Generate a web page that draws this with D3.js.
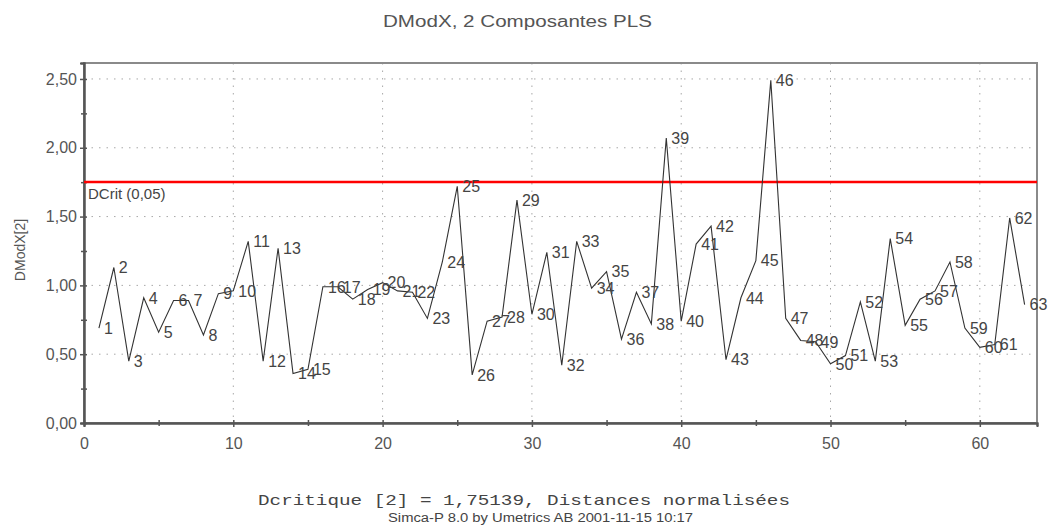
<!DOCTYPE html>
<html>
<head>
<meta charset="utf-8">
<script src="https://cdn.jsdelivr.net/npm/d3@7"></script>
<style>
  html, body { margin: 0; padding: 0; background: #fff; }
  svg { display: block; }
</style>
</head>
<body>
<svg id="chart" width="1049" height="528" font-family="'Liberation Sans', Arial, sans-serif"></svg>
<script>
// ---- data ----
const observations = [1,2,3,4,5,6,7,8,9,10,11,12,13,14,15,16,17,18,19,20,21,22,23,24,25,26,27,28,29,30,31,32,33,34,35,36,37,38,39,40,41,42,43,44,45,46,47,48,49,50,51,52,53,54,55,56,57,58,59,60,61,62,63];
const dmodxValues = [0.69,1.13,0.45,0.91,0.66,0.89,0.89,0.64,0.94,0.96,
                     1.32,0.45,1.27,0.36,0.39,0.99,0.99,0.90,0.97,1.02,
                     0.96,0.95,0.76,1.17,1.72,0.35,0.74,0.77,1.62,0.79,
                     1.24,0.42,1.32,0.98,1.10,0.61,0.95,0.72,2.07,0.74,
                     1.30,1.43,0.46,0.91,1.18,2.49,0.76,0.60,0.59,0.43,
                     0.49,0.88,0.45,1.34,0.71,0.90,0.96,1.17,0.69,0.55,
                     0.57,1.49,0.86];
const dCrit = 1.75139;
const yTickValues = [0, 0.5, 1.0, 1.5, 2.0, 2.5];
const yMinorTicks = [0.25, 0.75, 1.25, 1.75, 2.25];
const xTickValues = [0, 10, 20, 30, 40, 50, 60];
const xMinorTicks = [5, 15, 25, 35, 45, 55];
const titleText = "DModX, 2 Composantes PLS";
const yLabelText = "DModX[2]";
const critLabelText = "DCrit (0,05)";
const footer1Text = "Dcritique [2] = 1,75139, Distances normalisées";
const footer2Text = "Simca-P 8.0 by Umetrics AB 2001-11-15 10:17";

// ---- layout ----
const L = 84, R = 1037, T = 63, B = 423;
const svg = d3.select("#chart");
svg.append("rect").attr("width", 1049).attr("height", 528).attr("fill", "#fff");

const x = d3.scaleLinear().domain([0, 63.83]).range([L, R]);
const y = d3.scaleLinear().domain([0, 2.616]).range([B, T]);
const comma = d => d3.format(".2f")(d).replace(".", ",");

// grid
const grid = svg.append("g");
grid.selectAll(".gy").data(yTickValues.filter(d => d > 0)).join("line")
  .attr("x1", L).attr("x2", R).attr("y1", d => y(d)).attr("y2", d => y(d))
  .attr("stroke", "#a8a8a8").attr("stroke-width", 1).attr("stroke-dasharray", "1.5,6");
grid.selectAll(".gx").data(xTickValues.filter(d => d > 0)).join("line")
  .attr("x1", d => x(d)).attr("x2", d => x(d)).attr("y1", T).attr("y2", B)
  .attr("stroke", "#a8a8a8").attr("stroke-width", 1).attr("stroke-dasharray", "1.5,6");

// frame
svg.append("rect").attr("x", L).attr("y", T).attr("width", R - L).attr("height", B - T)
  .attr("fill", "none").attr("stroke", "#8a8a8a").attr("stroke-width", 2);

// axes
const yAxis = svg.append("g").attr("transform", `translate(${L},0)`)
  .call(d3.axisLeft(y).tickValues(yTickValues).tickFormat(comma).tickSize(4).tickPadding(3));
const yMinor = svg.append("g").attr("transform", `translate(${L},0)`)
  .call(d3.axisLeft(y).tickValues(yMinorTicks).tickFormat("").tickSize(3));
const xAxis = svg.append("g").attr("transform", `translate(0,${B})`)
  .call(d3.axisBottom(x).tickValues(xTickValues).tickFormat(d3.format("d")).tickSize(4).tickPadding(11));
const xMinor = svg.append("g").attr("transform", `translate(0,${B})`)
  .call(d3.axisBottom(x).tickValues(xMinorTicks).tickFormat("").tickSize(3));
[yAxis, yMinor, xAxis, xMinor].forEach(g => {
  g.select(".domain").attr("stroke", "#555").attr("stroke-width", 2);
  g.selectAll(".tick line").attr("stroke", "#555").attr("stroke-width", 1.5);
  g.selectAll(".tick text").attr("fill", "#555").attr("font-size", 16)
    .attr("font-family", "'Liberation Sans', Arial, sans-serif");
});
xAxis.selectAll(".tick line").attr("y1", -3);
xMinor.selectAll(".tick line").attr("y1", -3);
yMinor.selectAll(".tick line").attr("x1", 3);
yAxis.selectAll(".tick line").attr("x1", 3);

// critical line
svg.append("line").attr("x1", L).attr("x2", R).attr("y1", y(dCrit)).attr("y2", y(dCrit))
  .attr("stroke", "#ff0000").attr("stroke-width", 2.5);
svg.append("text").attr("x", L + 4).attr("y", y(dCrit) + 17)
  .attr("font-size", 15).attr("fill", "#444").text(critLabelText);

// data line
const pts = observations.map((o, i) => ({ o, v: dmodxValues[i] }));
svg.append("path").datum(pts)
  .attr("d", d3.line().x(d => x(d.o)).y(d => y(d.v)))
  .attr("fill", "none").attr("stroke", "#333").attr("stroke-width", 1.1);

// point labels
svg.append("g").selectAll("text").data(pts).join("text")
  .attr("x", d => x(d.o) + 5).attr("y", d => y(d.v)).attr("dy", "0.36em")
  .attr("font-size", 16).attr("fill", "#444").text(d => d.o);

// title
svg.append("text").attr("x", 383).attr("y", 27).attr("font-size", 16).attr("fill", "#555")
  .attr("textLength", 269).attr("lengthAdjust", "spacingAndGlyphs").text(titleText);

// y label
svg.append("text").attr("transform", "translate(25,250) rotate(-90)")
  .attr("text-anchor", "middle").attr("font-size", 14).attr("fill", "#555").text(yLabelText);

// footer
svg.append("text").attr("x", 258).attr("y", 505)
  .attr("font-family", "'Liberation Mono', 'Courier New', monospace")
  .attr("font-size", 15).attr("fill", "#444")
  .attr("textLength", 532).attr("lengthAdjust", "spacingAndGlyphs").text(footer1Text);
svg.append("text").attr("x", 388).attr("y", 522).attr("font-size", 12).attr("fill", "#444")
  .attr("textLength", 305).attr("lengthAdjust", "spacingAndGlyphs").text(footer2Text);
</script>
</body>
</html>
